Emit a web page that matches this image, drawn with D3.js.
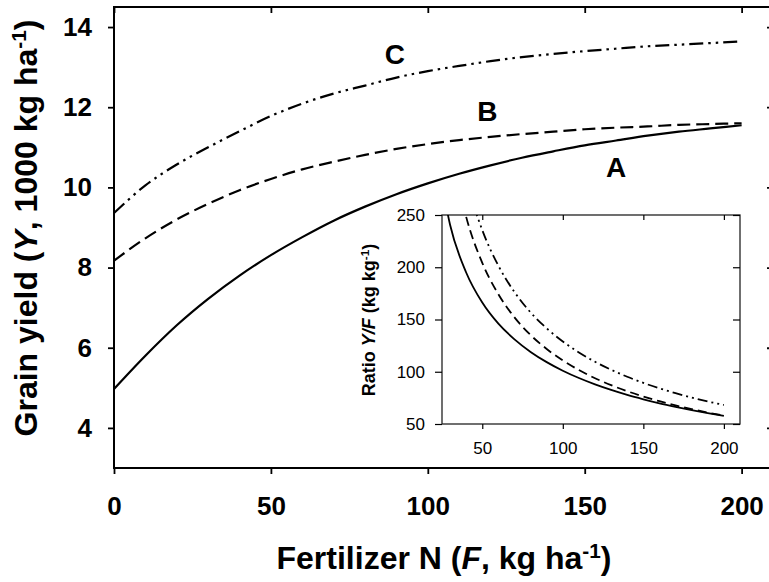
<!DOCTYPE html>
<html>
<head>
<meta charset="utf-8">
<script src="https://cdn.jsdelivr.net/npm/d3@7"></script>
<style>
  body { margin: 0; background: #fff; }
  svg { display: block; font-family: Arial, "Liberation Sans", Helvetica, sans-serif; }
  .main-tick text { font-family: Arial, "Liberation Sans", sans-serif; font-size: 26px; font-weight: bold; }
  .inset-tick text { font-family: Arial, "Liberation Sans", sans-serif; font-size: 17px; }
  .axis-title { font-size: 32px; font-weight: bold; }
  .inset-title { font-size: 18px; font-weight: bold; }
  .curve-label { font-size: 28px; font-weight: bold; }
</style>
</head>
<body>
<div id="chart"></div>
<script>
// fertilizer N rates (kg/ha) and grain yield (1000 kg/ha)
const fert = [0, 10, 20, 30, 40, 50, 60, 70, 80, 90, 100, 110, 120, 130, 140, 150, 160, 170, 180, 190, 200];
const yieldA = [4.97, 5.80, 6.56, 7.22, 7.80, 8.31, 8.76, 9.17, 9.52, 9.83, 10.10, 10.34, 10.55, 10.74, 10.90, 11.05, 11.17, 11.29, 11.39, 11.47, 11.55];
const yieldB = [8.17, 8.73, 9.20, 9.59, 9.93, 10.21, 10.45, 10.64, 10.81, 10.96, 11.08, 11.18, 11.26, 11.33, 11.39, 11.45, 11.49, 11.52, 11.56, 11.58, 11.60];
const yieldC = [9.36, 10.05, 10.57, 11.00, 11.40, 11.78, 12.09, 12.34, 12.54, 12.74, 12.90, 13.03, 13.15, 13.25, 13.33, 13.40, 13.46, 13.52, 13.56, 13.60, 13.64];

const seriesNames = ["A", "B", "C"];
const labelF = [160, 119, 89.5];
const labelY = [10.5, 11.92, 13.34];

const mainXTicks = [0, 50, 100, 150, 200];
const mainYTicks = [4, 6, 8, 10, 12, 14];
const insetXTicks = [50, 100, 150, 200];
const insetYTicks = [50, 100, 150, 200, 250];

const width = 769, height = 582;
const svg = d3.select("#chart").append("svg").attr("width", width).attr("height", height);

const x = d3.scaleLinear().domain([0, 210]).range([114, 773]);
const y = d3.scaleLinear().domain([3, 14.5]).range([468, 7]);

const dashes = ["none", "13,6", "14,5,2.5,5,2.5,5"];
const insetDashes = ["none", "9,5", "10,4,2,4,2,4"];
const yields = [yieldA, yieldB, yieldC];

// main frame
svg.append("rect")
  .attr("x", x(0)).attr("y", y(14.5))
  .attr("width", x(210) - x(0)).attr("height", y(3) - y(14.5))
  .attr("fill", "none").attr("stroke", "#000").attr("stroke-width", 2);

function styleAxis(g, cls, w) {
  g.attr("class", cls).attr("font-family", null).attr("font-size", null);
  g.select(".domain").remove();
  g.selectAll(".tick line").attr("stroke", "#000").attr("stroke-width", w);
  g.selectAll(".tick text").attr("fill", "#000");
}

svg.append("g").attr("transform", `translate(0,${y(3)})`)
  .call(d3.axisBottom(x).tickValues(mainXTicks).tickSize(6).tickPadding(23))
  .call(g => styleAxis(g, "main-tick", 1.8));
svg.append("g").attr("transform", `translate(${x(0)},0)`)
  .call(d3.axisLeft(y).tickValues(mainYTicks).tickSize(6).tickPadding(16))
  .call(g => styleAxis(g, "main-tick", 1.8));
svg.append("g").attr("transform", `translate(0,${y(14.5)})`)
  .call(d3.axisTop(x).tickValues(mainXTicks).tickSize(-6).tickFormat(""))
  .call(g => styleAxis(g, "main-tick", 1.8));
svg.append("g").attr("transform", `translate(${x(210)},0)`)
  .call(d3.axisRight(y).tickValues(mainYTicks).tickSize(-6).tickFormat(""))
  .call(g => styleAxis(g, "main-tick", 1.8));

const line = d3.line().x(d => x(d[0])).y(d => y(d[1])).curve(d3.curveMonotoneX);

yields.forEach((ys, i) => {
  svg.append("path")
    .datum(fert.map((f, j) => [f, ys[j]]))
    .attr("d", line)
    .attr("fill", "none")
    .attr("stroke", "#000")
    .attr("stroke-width", 2.2)
    .attr("stroke-dasharray", dashes[i]);
});

seriesNames.forEach((name, i) => {
  svg.append("text")
    .attr("class", "curve-label")
    .attr("x", x(labelF[i]))
    .attr("y", y(labelY[i]))
    .attr("text-anchor", "middle")
    .attr("dy", "0.36em")
    .text(name);
});

// axis titles
const xt = svg.append("text").attr("class", "axis-title")
  .attr("x", 444).attr("y", 569).attr("text-anchor", "middle");
xt.append("tspan").text("Fertilizer N (");
xt.append("tspan").attr("font-style", "italic").text("F");
xt.append("tspan").text(", kg ha");
xt.append("tspan").attr("baseline-shift", "super").attr("font-size", "65%").text("-1");
xt.append("tspan").text(")");

const yt = svg.append("text").attr("class", "axis-title")
  .attr("transform", "rotate(-90)")
  .attr("x", -228).attr("y", 37).attr("text-anchor", "middle");
yt.append("tspan").text("Grain yield (");
yt.append("tspan").attr("font-style", "italic").text("Y");
yt.append("tspan").text(", 1000 kg ha");
yt.append("tspan").attr("baseline-shift", "super").attr("font-size", "65%").text("-1");
yt.append("tspan").text(")");

// inset: ratio Y/F
const ix = d3.scaleLinear().domain([25, 210]).range([442, 740]);
const iy = d3.scaleLinear().domain([50, 250]).range([424, 215]);

svg.append("rect")
  .attr("x", ix(25)).attr("y", iy(250))
  .attr("width", ix(210) - ix(25)).attr("height", iy(50) - iy(250))
  .attr("fill", "#fff").attr("stroke", "#222").attr("stroke-width", 1.3);

svg.append("defs").append("clipPath").attr("id", "insetClip")
  .append("rect")
  .attr("x", ix(25)).attr("y", iy(250))
  .attr("width", ix(210) - ix(25)).attr("height", iy(50) - iy(250));

svg.append("g").attr("transform", `translate(0,${iy(50)})`)
  .call(d3.axisBottom(ix).tickValues(insetXTicks).tickSize(5).tickPadding(13))
  .call(g => styleAxis(g, "inset-tick", 1.2));
svg.append("g").attr("transform", `translate(${ix(25)},0)`)
  .call(d3.axisLeft(iy).tickValues(insetYTicks).tickSize(7).tickPadding(10))
  .call(g => styleAxis(g, "inset-tick", 1.2));
svg.append("g").attr("transform", `translate(0,${iy(250)})`)
  .call(d3.axisTop(ix).tickValues(insetXTicks).tickSize(-5).tickFormat(""))
  .call(g => styleAxis(g, "inset-tick", 1.2));
svg.append("g").attr("transform", `translate(${ix(210)},0)`)
  .call(d3.axisRight(iy).tickValues(insetYTicks).tickSize(-7).tickFormat(""))
  .call(g => styleAxis(g, "inset-tick", 1.2));

const iline = d3.line().x(d => ix(d[0])).y(d => iy(d[1])).curve(d3.curveMonotoneX);
const insetG = svg.append("g").attr("clip-path", "url(#insetClip)");

yields.forEach((ys, i) => {
  const pts = fert.map((f, j) => [f, ys[j] * 1000 / f]).filter(d => d[0] >= 20);
  insetG.append("path")
    .datum(pts)
    .attr("d", iline)
    .attr("fill", "none")
    .attr("stroke", "#000")
    .attr("stroke-width", 1.8)
    .attr("stroke-dasharray", insetDashes[i]);
});

const it = svg.append("text").attr("class", "inset-title")
  .attr("transform", "rotate(-90)")
  .attr("x", -320).attr("y", 375).attr("text-anchor", "middle");
it.append("tspan").text("Ratio ");
it.append("tspan").attr("font-style", "italic").text("Y/F");
it.append("tspan").text(" (kg kg");
it.append("tspan").attr("baseline-shift", "super").attr("font-size", "65%").text("-1");
it.append("tspan").text(")");
</script>
</body>
</html>
